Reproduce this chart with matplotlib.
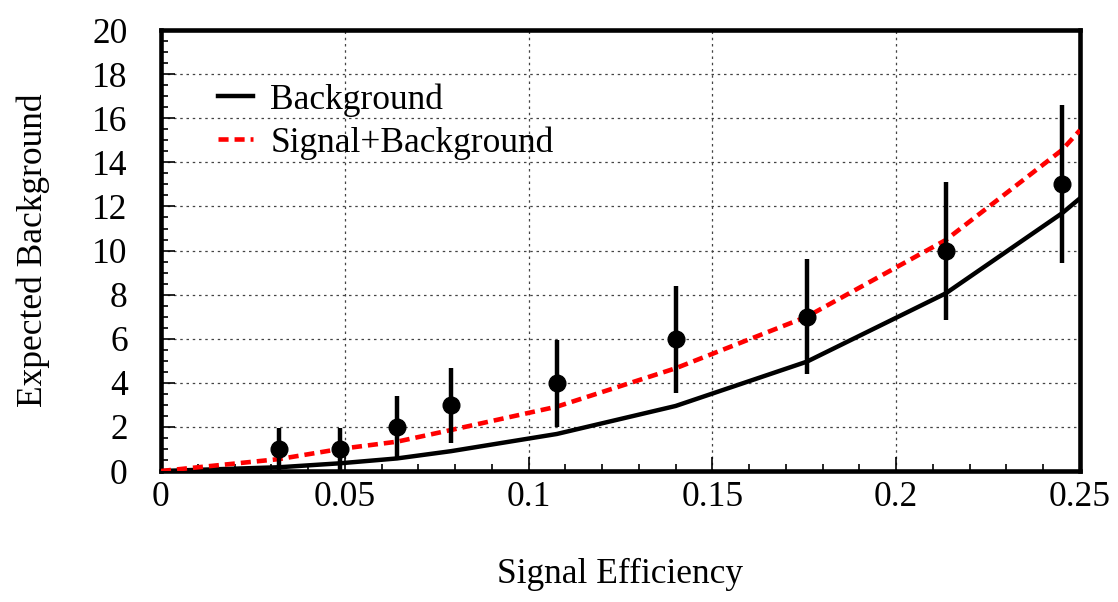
import matplotlib
matplotlib.use("Agg")
import matplotlib.pyplot as plt
import numpy as np
from matplotlib.ticker import MultipleLocator

plt.rcParams['font.family'] = ['Liberation Serif', 'DejaVu Serif']

# data
eff = [0.0321, 0.0487, 0.0642, 0.0789, 0.1077, 0.140, 0.1757, 0.2135, 0.2451]
observed = [1, 1, 2, 3, 4, 6, 7, 10, 13]
err_low = [0.0, 0.0, 0.63, 1.28, 2.0, 3.55, 4.38, 6.85, 9.42]
err_high = [1.95, 1.95, 3.4, 4.67, 5.94, 8.4, 9.63, 13.12, 16.6]

curve_x = [0.0, 0.0321, 0.0487, 0.0642, 0.0789, 0.1077, 0.140, 0.1757, 0.2135, 0.2451, 0.25]
bkg = [0.0, 0.17, 0.35, 0.57, 0.9, 1.68, 2.95, 4.96, 8.06, 11.69, 12.37]
sig_bkg = [0.0, 0.54, 1.0, 1.33, 1.86, 2.92, 4.66, 7.0, 10.48, 14.56, 15.46]

fs = 25.5

fig = plt.figure(figsize=(11.18, 6.02), dpi=100)
ax = fig.add_axes([0.144, 0.2176, 0.822, 0.7324])

ax.plot(curve_x, bkg, color='black', lw=3.2, label='Background', zorder=3)
ax.plot(curve_x, sig_bkg, color='red', lw=3.3, dashes=(2.2, 1.3), label='Signal+Background', zorder=3)

obs = np.array(observed, dtype=float)
yerr = [obs - np.array(err_low), np.array(err_high) - obs]
ax.errorbar(eff, obs, yerr=yerr, fmt='o', color='black', ms=12, elinewidth=3.2, capsize=0, zorder=4)

ax.set_xlim(0, 0.25)
ax.set_ylim(0, 20)
ax.xaxis.set_major_locator(MultipleLocator(0.05))
ax.xaxis.set_minor_locator(MultipleLocator(0.01))
ax.yaxis.set_major_locator(MultipleLocator(2))
ax.yaxis.set_minor_locator(MultipleLocator(0.5))
ax.set_xticks([0, 0.05, 0.1, 0.15, 0.2, 0.25])
ax.set_xticklabels(['0', '0.05', '0.1', '0.15', '0.2', '0.25'])
ax.tick_params(which='both', direction='in', top=False, right=False, width=1.2, labelsize=fs)
ax.tick_params(axis='x', which='major', length=10, pad=7)
ax.tick_params(axis='x', which='minor', length=5)
ax.tick_params(axis='y', which='major', length=10, pad=24)
ax.tick_params(axis='y', which='minor', length=5)

ax.grid(True, which='major', ls=(0, (2, 3)), color='#444444', lw=0.9)
for s in ax.spines.values():
    s.set_linewidth(3.3)

ax.set_xlabel('Signal Efficiency', fontsize=fs, labelpad=32)
ax.set_ylabel('Expected Background', fontsize=fs, labelpad=30)

ax.legend(loc='upper left', bbox_to_anchor=(0.062, 0.88), frameon=False, fontsize=fs,
          handlelength=1.0, handletextpad=0.48, labelspacing=0.27, borderpad=0, borderaxespad=0)

fig.savefig('out.png', dpi=100)
